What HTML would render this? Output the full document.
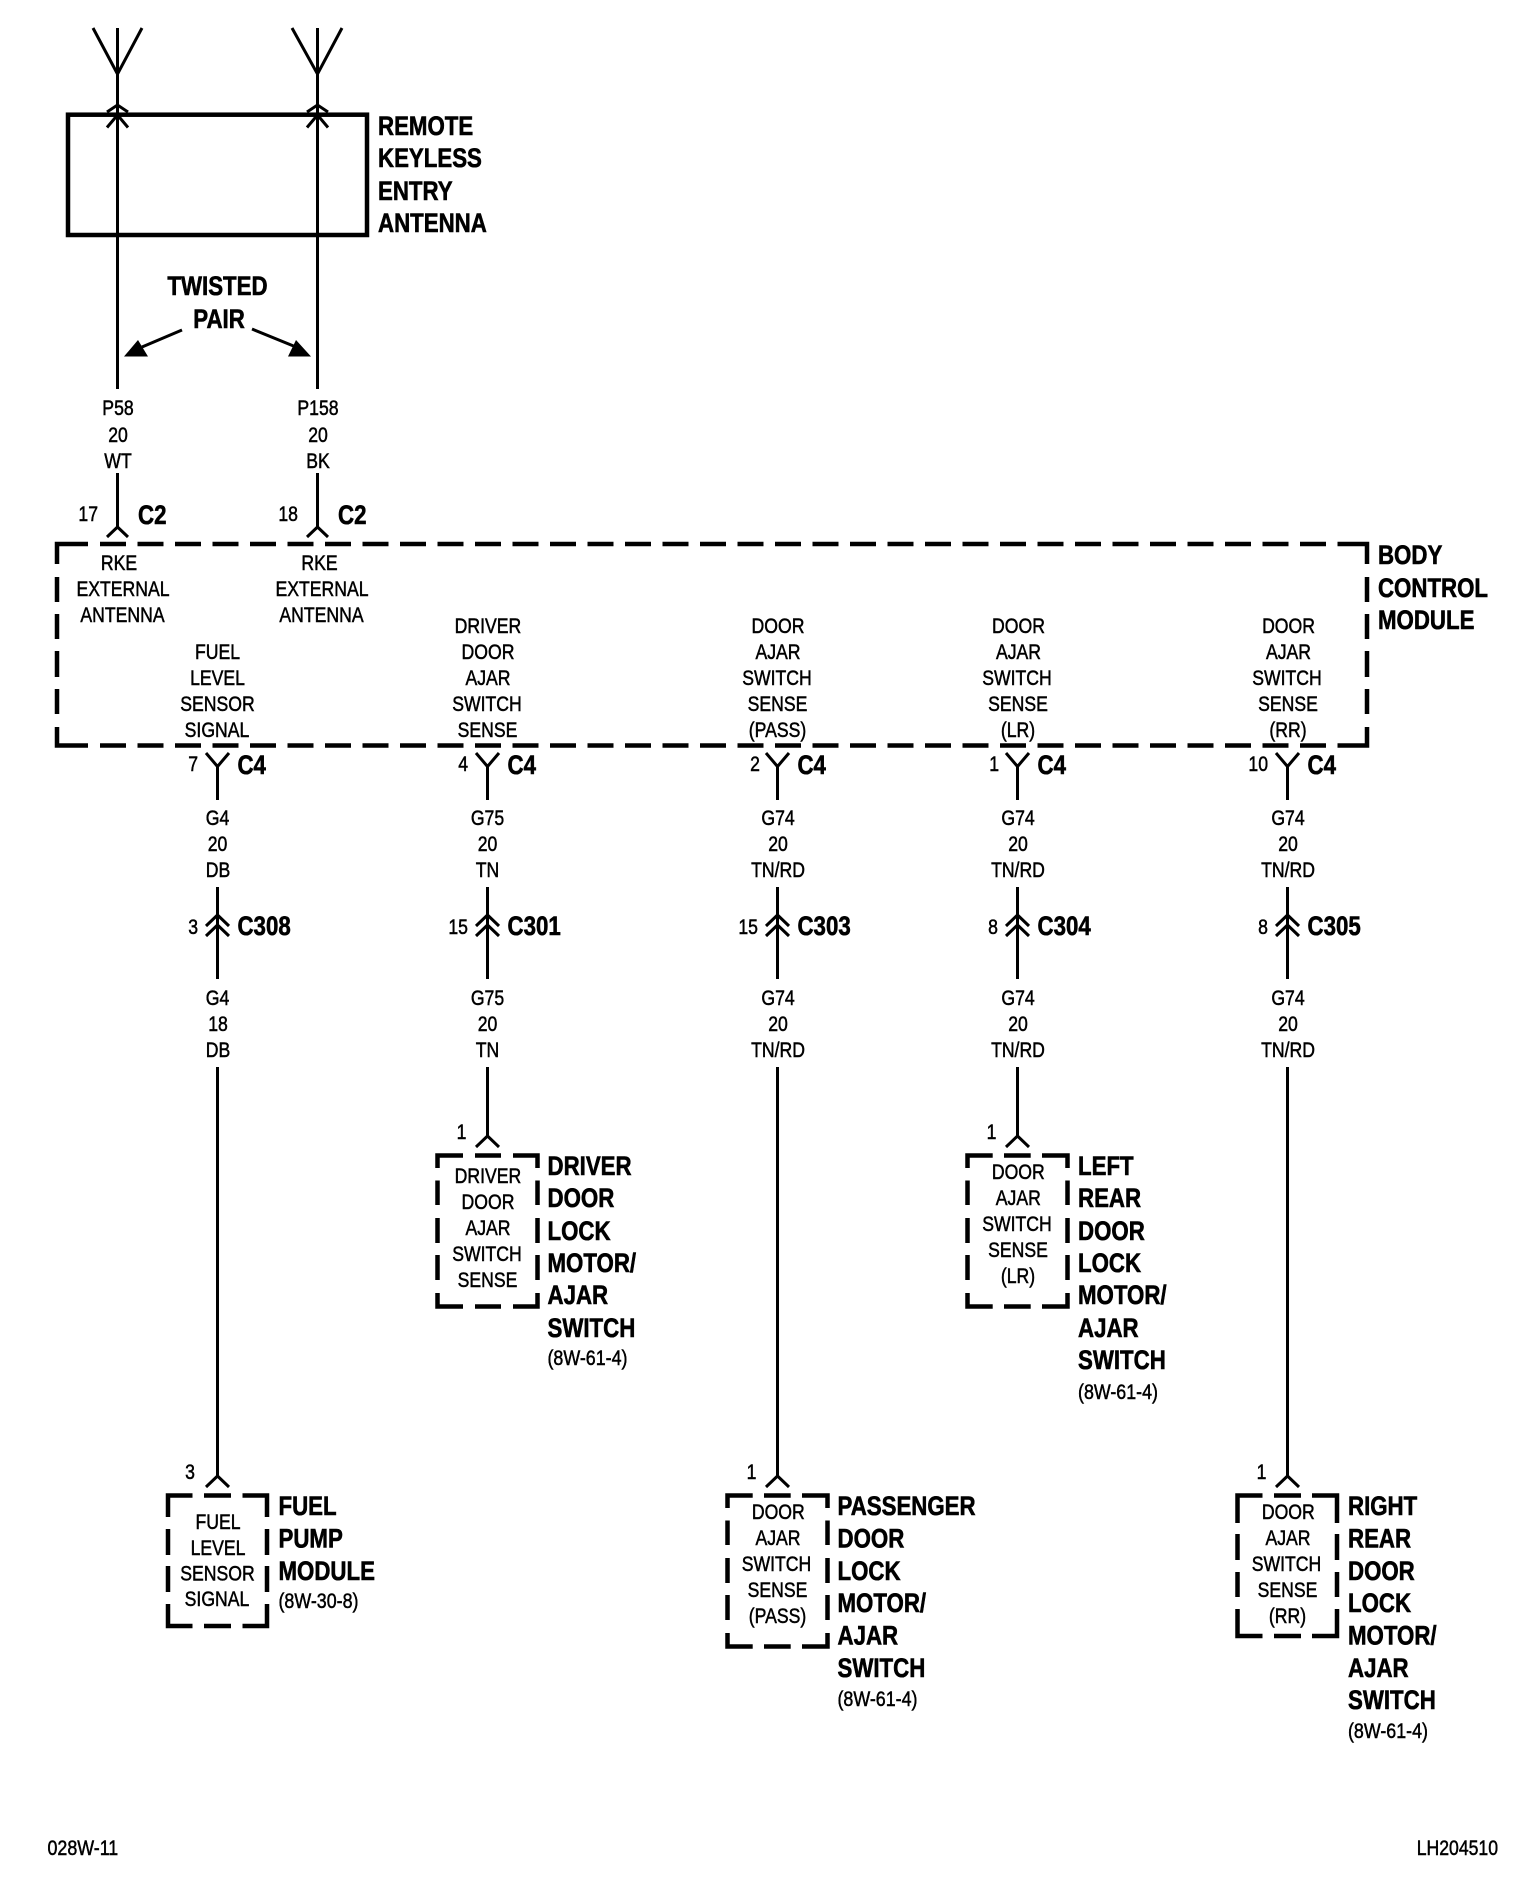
<!DOCTYPE html>
<html><head><meta charset="utf-8"><style>
html,body{margin:0;padding:0;background:#fff}
svg{display:block}
text{font-family:"Liberation Sans",sans-serif;fill:#000;transform-box:fill-box;stroke:#000}
.r,.e,.l{font-size:21px;stroke-width:.5px}
.r{text-anchor:middle;transform-origin:center;transform:scaleX(.84)}
.e{text-anchor:end;transform-origin:right center;transform:scaleX(.84)}
.l{text-anchor:start;transform-origin:left center;transform:scaleX(.85)}
.b,.c{font-size:26.5px;font-weight:bold;stroke-width:.6px}
.b{text-anchor:start;transform-origin:left center;transform:scaleX(.84)}
.c{text-anchor:middle;transform-origin:center;transform:scaleX(.84)}
.w{fill:none;stroke:#000;stroke-width:3}
.d{fill:none;stroke:#000;stroke-width:4.5}
</style></head><body>
<svg width="1536" height="1880" viewBox="0 0 1536 1880" xmlns="http://www.w3.org/2000/svg">
<rect width="1536" height="1880" fill="#fff"/>
<!-- antennas -->
<rect x="68" y="114.7" width="299" height="120.3" fill="none" stroke="#000" stroke-width="4.5"/>
<path class="w" d="M93 28L117.5 74L142 28M117.5 28V389M107 112L117.5 105L128 112M107 127.5L117.5 115L128 127.5"/>
<path class="w" d="M292 28L317.5 74L342 28M317.5 28V389M307 112L317.5 105L328 112M307 127.5L317.5 115L328 127.5"/>
<text class="b" x="378" y="135">REMOTE</text>
<text class="b" x="378" y="167">KEYLESS</text>
<text class="b" x="378" y="200">ENTRY</text>
<text class="b" x="378" y="232">ANTENNA</text>
<text class="c" x="217.5" y="295">TWISTED</text>
<text class="c" x="219" y="328">PAIR</text>
<path class="w" d="M182 330L142 347M252 329L296 347"/>
<path d="M124 356.5L138 340L148 356.5Z M311 356.5L296 340L288 356.5Z" fill="#000"/>
<text class="r" x="118" y="415">P58</text><text class="r" x="118" y="442">20</text><text class="r" x="118" y="468">WT</text>
<text class="r" x="318" y="415">P158</text><text class="r" x="318" y="442">20</text><text class="r" x="318" y="468">BK</text>
<path class="w" d="M117.5 473V527M107 537L117.5 527L128 537M317.5 473V527M307 537L317.5 527L328 537"/>
<text class="e" x="98" y="521">17</text><text class="e" x="298" y="521">18</text>
<text class="b" x="138" y="524">C2</text><text class="b" x="338" y="524">C2</text>
<!-- BCM -->
<path class="d" d="M57 564V544H88M57 577V602M57 614V639M57 651V677M57 689V714M57 727V745.5H88M1367 564V544H1337.5M1367 577V602M1367 614V639M1367 651V677M1367 689V714M1367 727V745.5H1337.5"/>
<path class="d" stroke-dasharray="26 11.5" d="M100 544H1326M100 745.5H1326"/>
<text class="b" x="1378" y="564">BODY</text><text class="b" x="1378" y="597">CONTROL</text><text class="b" x="1378" y="629">MODULE</text>
<text class="r" x="119" y="570">RKE</text><text class="r" x="123" y="596">EXTERNAL</text><text class="r" x="122.5" y="622">ANTENNA</text>
<text class="r" x="319.5" y="570">RKE</text><text class="r" x="322" y="596">EXTERNAL</text><text class="r" x="321.5" y="622">ANTENNA</text>
<text class="r" x="217.5" y="659">FUEL</text><text class="r" x="217.5" y="685">LEVEL</text><text class="r" x="217.5" y="711">SENSOR</text><text class="r" x="217" y="737">SIGNAL</text>
<text class="r" x="488" y="633">DRIVER</text><text class="r" x="488" y="659">DOOR</text><text class="r" x="488" y="685">AJAR</text><text class="r" x="487" y="711">SWITCH</text><text class="r" x="487.5" y="737">SENSE</text>
<text class="r" x="778" y="633">DOOR</text><text class="r" x="778" y="659">AJAR</text><text class="r" x="777" y="685">SWITCH</text><text class="r" x="777.5" y="711">SENSE</text><text class="r" x="777.5" y="737">(PASS)</text>
<text class="r" x="1018.5" y="633">DOOR</text><text class="r" x="1018.5" y="659">AJAR</text><text class="r" x="1017" y="685">SWITCH</text><text class="r" x="1018" y="711">SENSE</text><text class="r" x="1018" y="737">(LR)</text>
<text class="r" x="1288.5" y="633">DOOR</text><text class="r" x="1288.5" y="659">AJAR</text><text class="r" x="1287" y="685">SWITCH</text><text class="r" x="1288" y="711">SENSE</text><text class="r" x="1288" y="737">(RR)</text>
<!-- wires -->
<path class="w" d="M206 753L217.5 766.5L229 753M217.5 766.5V800M217.5 887V979M206 926L217.5 915L229 926M206 936L217.5 925L229 936M217.5 1067V1476M206 1487L217.5 1476L229 1487"/>
<path class="w" d="M476 753L487.5 766.5L499 753M487.5 766.5V800M487.5 887V979M476 926L487.5 915L499 926M476 936L487.5 925L499 936M487.5 1067V1136M476 1147L487.5 1136L499 1147"/>
<path class="w" d="M766 753L777.5 766.5L789 753M777.5 766.5V800M777.5 887V979M766 926L777.5 915L789 926M766 936L777.5 925L789 936M777.5 1067V1476M766 1487L777.5 1476L789 1487"/>
<path class="w" d="M1006 753L1017.5 766.5L1029 753M1017.5 766.5V800M1017.5 887V979M1006 926L1017.5 915L1029 926M1006 936L1017.5 925L1029 936M1017.5 1067V1136M1006 1147L1017.5 1136L1029 1147"/>
<path class="w" d="M1276 753L1287.5 766.5L1299 753M1287.5 766.5V800M1287.5 887V979M1276 926L1287.5 915L1299 926M1276 936L1287.5 925L1299 936M1287.5 1067V1476M1276 1487L1287.5 1476L1299 1487"/>
<!-- connector labels -->
<text class="e" x="198" y="771">7</text><text class="b" x="237.5" y="774">C4</text>
<text class="e" x="468" y="771">4</text><text class="b" x="507.5" y="774">C4</text>
<text class="e" x="760" y="771">2</text><text class="b" x="797.5" y="774">C4</text>
<text class="e" x="999" y="771">1</text><text class="b" x="1037.5" y="774">C4</text>
<text class="e" x="1268" y="771">10</text><text class="b" x="1307.5" y="774">C4</text>
<text class="e" x="198" y="934">3</text><text class="b" x="237.5" y="935">C308</text>
<text class="e" x="468" y="934">15</text><text class="b" x="507.5" y="935">C301</text>
<text class="e" x="758" y="934">15</text><text class="b" x="797.5" y="935">C303</text>
<text class="e" x="998" y="934">8</text><text class="b" x="1037.5" y="935">C304</text>
<text class="e" x="1268" y="934">8</text><text class="b" x="1307.5" y="935">C305</text>
<!-- wire labels -->
<text class="r" x="217.5" y="825">G4</text><text class="r" x="217.5" y="851">20</text><text class="r" x="218" y="877">DB</text>
<text class="r" x="217.5" y="1005">G4</text><text class="r" x="218" y="1031">18</text><text class="r" x="218" y="1057">DB</text>
<text class="r" x="487.5" y="825">G75</text><text class="r" x="487.5" y="851">20</text><text class="r" x="487.5" y="877">TN</text>
<text class="r" x="487.5" y="1005">G75</text><text class="r" x="487.5" y="1031">20</text><text class="r" x="487.5" y="1057">TN</text>
<text class="r" x="778" y="825">G74</text><text class="r" x="778" y="851">20</text><text class="r" x="778" y="877">TN/RD</text>
<text class="r" x="778" y="1005">G74</text><text class="r" x="778" y="1031">20</text><text class="r" x="778" y="1057">TN/RD</text>
<text class="r" x="1018" y="825">G74</text><text class="r" x="1018" y="851">20</text><text class="r" x="1018" y="877">TN/RD</text>
<text class="r" x="1018" y="1005">G74</text><text class="r" x="1018" y="1031">20</text><text class="r" x="1018" y="1057">TN/RD</text>
<text class="r" x="1288" y="825">G74</text><text class="r" x="1288" y="851">20</text><text class="r" x="1288" y="877">TN/RD</text>
<text class="r" x="1288" y="1005">G74</text><text class="r" x="1288" y="1031">20</text><text class="r" x="1288" y="1057">TN/RD</text>
<!-- Fuel pump -->
<path class="d" d="M168 1517V1495.5H192.5M204 1495.5H231M242.5 1495.5H267V1517M168 1529V1555M168 1566V1592M168 1604V1626H192.5M204 1626H231M242.5 1626H267V1604M267 1529V1555M267 1566V1592"/>
<text class="r" x="190" y="1479">3</text>
<text class="r" x="218" y="1529">FUEL</text><text class="r" x="218" y="1555">LEVEL</text><text class="r" x="217.5" y="1580.5">SENSOR</text><text class="r" x="217" y="1606">SIGNAL</text>
<text class="b" x="278.5" y="1515">FUEL</text><text class="b" x="278.5" y="1547.5">PUMP</text><text class="b" x="278.5" y="1580">MODULE</text><text class="l" x="278.5" y="1608">(8W-30-8)</text>
<!-- Driver -->
<path class="d" d="M437.5 1168V1155.5H463M475 1155.5H501M513 1155.5H537.5V1168M437.5 1180.5V1205M437.5 1218V1243M437.5 1255V1280M437.5 1293V1306.5H463M475 1306.5H501M513 1306.5H537.5V1293M537.5 1180.5V1205M537.5 1218V1243M537.5 1255V1280"/>
<text class="r" x="461.5" y="1139">1</text>
<text class="r" x="488" y="1183">DRIVER</text><text class="r" x="488" y="1209">DOOR</text><text class="r" x="488" y="1235">AJAR</text><text class="r" x="487" y="1261">SWITCH</text><text class="r" x="487.5" y="1287">SENSE</text>
<text class="b" x="547.5" y="1175">DRIVER</text><text class="b" x="547.5" y="1207">DOOR</text><text class="b" x="547.5" y="1240">LOCK</text><text class="b" x="547.5" y="1272">MOTOR/</text><text class="b" x="547.5" y="1304">AJAR</text><text class="b" x="547.5" y="1337">SWITCH</text><text class="l" x="547.5" y="1365">(8W-61-4)</text>
<!-- LR -->
<path class="d" d="M967.5 1168V1155.5H992.7M1004 1155.5H1030.7M1042 1155.5H1067.5V1168M967.5 1180.5V1205M967.5 1218V1243M967.5 1255V1280M967.5 1293V1306.5H992.7M1004 1306.5H1030.7M1042 1306.5H1067.5V1293M1067.5 1180.5V1205M1067.5 1218V1243M1067.5 1255V1280"/>
<text class="r" x="991.5" y="1139">1</text>
<text class="r" x="1018.3" y="1179">DOOR</text><text class="r" x="1018.3" y="1205">AJAR</text><text class="r" x="1017" y="1231">SWITCH</text><text class="r" x="1018" y="1257">SENSE</text><text class="r" x="1018" y="1283">(LR)</text>
<text class="b" x="1078" y="1175">LEFT</text><text class="b" x="1078" y="1207">REAR</text><text class="b" x="1078" y="1240">DOOR</text><text class="b" x="1078" y="1272">LOCK</text><text class="b" x="1078" y="1304">MOTOR/</text><text class="b" x="1078" y="1337">AJAR</text><text class="b" x="1078" y="1369">SWITCH</text><text class="l" x="1078" y="1399">(8W-61-4)</text>
<!-- Pass -->
<path class="d" d="M727.5 1508V1495.5H752.7M764 1495.5H790.7M802 1495.5H827.5V1508M727.5 1520.5V1545M727.5 1558V1583M727.5 1595V1620M727.5 1633V1646.5H752.7M764 1646.5H790.7M802 1646.5H827.5V1633M827.5 1520.5V1545M827.5 1558V1583M827.5 1595V1620"/>
<text class="r" x="751.5" y="1479">1</text>
<text class="r" x="778.3" y="1519">DOOR</text><text class="r" x="778" y="1545">AJAR</text><text class="r" x="776.5" y="1571">SWITCH</text><text class="r" x="777.5" y="1597">SENSE</text><text class="r" x="777.5" y="1623">(PASS)</text>
<text class="b" x="837.5" y="1515">PASSENGER</text><text class="b" x="837.5" y="1547.5">DOOR</text><text class="b" x="837.5" y="1580">LOCK</text><text class="b" x="837.5" y="1612">MOTOR/</text><text class="b" x="837.5" y="1644.5">AJAR</text><text class="b" x="837.5" y="1677">SWITCH</text><text class="l" x="837.5" y="1706">(8W-61-4)</text>
<!-- RR -->
<path class="d" d="M1237.5 1523V1495.5H1262.5M1274 1495.5H1301M1312 1495.5H1337V1523M1237.5 1534V1560M1237.5 1572V1597M1237.5 1609V1636H1262.5M1274 1636H1301M1312 1636H1337V1609M1337 1534V1560M1337 1572V1597"/>
<text class="r" x="1261.5" y="1479">1</text>
<text class="r" x="1288.3" y="1519">DOOR</text><text class="r" x="1288" y="1545">AJAR</text><text class="r" x="1286.5" y="1571">SWITCH</text><text class="r" x="1287.5" y="1597">SENSE</text><text class="r" x="1287.5" y="1623">(RR)</text>
<text class="b" x="1348" y="1515">RIGHT</text><text class="b" x="1348" y="1547.5">REAR</text><text class="b" x="1348" y="1580">DOOR</text><text class="b" x="1348" y="1612">LOCK</text><text class="b" x="1348" y="1644.5">MOTOR/</text><text class="b" x="1348" y="1677">AJAR</text><text class="b" x="1348" y="1709">SWITCH</text><text class="l" x="1348" y="1738">(8W-61-4)</text>
<!-- footer -->
<text class="l" x="47.5" y="1855">028W-11</text>
<text class="e" x="1498" y="1855">LH204510</text>
</svg>
</body></html>
